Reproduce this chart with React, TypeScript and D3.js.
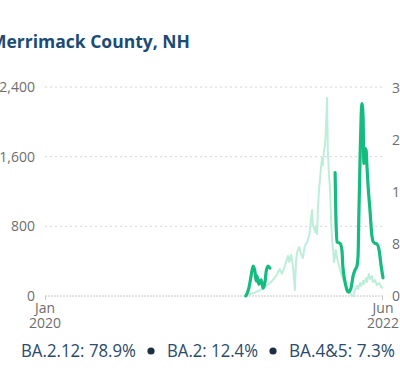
import React from "react";
import * as d3 from "d3";

const title = "Merrimack County, NH";
const leftTicks = [0, 800, 1600, 2400];
const rightTicks = [0, 8, 16, 24, 32];
const xStart = "2020-01-01";
const xEnd = "2022-06-01";
const xTickLabels = [["Jan", "2020"], ["Jun", "2022"]];
const legendItems = ["BA.2.12: 78.9%", "BA.2: 12.4%", "BA.4&5: 7.3%"];

const caseDates = [
  "2021-06-08","2021-06-19","2021-06-29","2021-07-10","2021-07-20","2021-07-31","2021-08-10","2021-08-18",
  "2021-08-26","2021-08-31","2021-09-05","2021-09-10","2021-09-16","2021-09-21","2021-09-26","2021-09-29",
  "2021-10-04","2021-10-09","2021-10-12","2021-10-14","2021-10-17","2021-10-20","2021-10-25","2021-10-30",
  "2021-11-04","2021-11-09","2021-11-15","2021-11-20","2021-11-22","2021-11-25","2021-11-28","2021-11-30",
  "2021-12-06","2021-12-08","2021-12-11","2021-12-13","2021-12-16","2021-12-19","2021-12-21","2021-12-24",
  "2021-12-26","2021-12-29","2021-12-31","2022-01-03","2022-01-06","2022-01-08","2022-01-11","2022-01-14",
  "2022-01-16","2022-01-19","2022-01-22","2022-01-24","2022-01-27","2022-01-29","2022-02-01","2022-02-04",
  "2022-02-09","2022-02-14","2022-02-19","2022-02-24","2022-03-02","2022-03-07","2022-03-12","2022-03-15",
  "2022-03-20","2022-03-25","2022-03-28","2022-04-02","2022-04-05","2022-04-10","2022-04-12","2022-04-18",
  "2022-04-20","2022-04-25","2022-04-28","2022-05-03","2022-05-06","2022-05-11","2022-05-16","2022-05-22",
  "2022-05-27","2022-06-01"
];
const caseValues = [
  0, 23, 34, 57, 80, 115, 149, 184,
  230, 276, 310, 253, 321, 390, 459, 390,
  471, 344, 184, 69, 390, 505, 563, 482,
  436, 574, 620, 689, 735, 895, 987, 815,
  735, 804, 712, 987, 1217, 1355, 1470, 1584,
  1504, 1676, 1699, 1906, 2273, 1676, 1389, 1217,
  930, 643, 528, 390, 459, 528, 436, 390,
  298, 230, 161, 115, 69, 34, 0, 0,
  69, 115, 80, 149, 115, 172, 138, 207,
  161, 253, 195, 230, 161, 184, 126, 149,
  103, 92
];

const variantDates = [
  "2021-06-08","2021-06-16","2021-06-21","2021-06-27","2021-07-02","2021-07-05","2021-07-07","2021-07-12",
  "2021-07-18","2021-07-23","2021-07-28","2021-07-31","2021-08-05","2021-08-10",
  "2021-11-01",
  "2022-01-27","2022-01-29","2022-02-01","2022-02-09","2022-02-14","2022-02-16","2022-02-21","2022-02-26",
  "2022-03-02","2022-03-09","2022-03-15","2022-03-20","2022-03-25","2022-03-28","2022-03-30","2022-04-02",
  "2022-04-05","2022-04-07","2022-04-10","2022-04-12","2022-04-15","2022-04-18","2022-04-20","2022-04-23",
  "2022-04-28","2022-05-03","2022-05-06","2022-05-11","2022-05-16","2022-05-22","2022-05-27","2022-06-01"
];
const variantValues: (number | null)[] = [
  0, 1.2, 2.8, 4.6, 3.7, 2.3, 3.1, 1.8,
  2.5, 1.2, 2.1, 3.7, 4.6, 4.3,
  null,
  19.0, 12.4, 8.3, 8.1, 7.0, 4.7, 2.5, 1.1,
  0.6, 1.1, 3.1, 4.0, 4.6, 6.3, 12.4, 20.8,
  27.7, 29.6, 27.7, 20.4, 22.7, 22.4, 20.1, 17.0,
  13.2, 9.3, 8.4, 8.1, 8.0, 7.0, 4.7, 2.8
];

const W = 400;
const H = 377;
const FONT = "'Open Sans', 'Noto Sans', sans-serif";

export default function App() {
  const parse = d3.timeParse("%Y-%m-%d");
  const x = d3.scaleTime().domain([parse(xStart)!, parse(xEnd)!]).range([45, 383]);
  const yL = d3.scaleLinear().domain([0, 2400]).range([296, 87]);
  const yR = d3.scaleLinear().domain([0, 32]).range([296, 88]);

  const cases = caseDates.map((d, i) => ({ d: parse(d)!, v: caseValues[i] }));
  const variant = variantDates.map((d, i) => ({ d: parse(d)!, v: variantValues[i] }));

  const caseLine = d3.line<{ d: Date; v: number }>().x((p) => x(p.d)).y((p) => yL(p.v));
  const varLine = d3
    .line<{ d: Date; v: number | null }>()
    .defined((p) => p.v !== null)
    .x((p) => x(p.d))
    .y((p) => yR(p.v as number))
    .curve(d3.curveMonotoneX);

  const fmt = d3.format(",");
  const legendX = [21, 167, 289];
  const legendW = [115, 91, 106];
  const bulletX = [151, 273];

  return (
    <svg width={W} height={H} style={{ position: "absolute", left: 0, top: 0, background: "#fff" }} fontFamily={FONT}>
      <text x={-10} y={48} fontSize={17.5} fontWeight={700} fill="#1c4b75">{title}</text>

      {leftTicks.map((t) => (
        <g key={"l" + t}>
          <line x1={45} x2={383} y1={yL(t)} y2={yL(t)} stroke={t === 0 ? "#c8c8c8" : "#d4d4d4"} strokeDasharray={t === 0 ? "2,1" : "2,3"} strokeWidth={1} />
          <text x={35} y={yL(t)} dy="0.35em" textAnchor="end" fontSize={14} fill="#6e6e6e">{fmt(t)}</text>
        </g>
      ))}
      <line x1={45.5} x2={45.5} y1={296} y2={300} stroke="#c8c8c8" />
      <line x1={382.5} x2={382.5} y1={296} y2={300} stroke="#c8c8c8" />

      {rightTicks.map((t) => (
        <text key={"r" + t} x={392} y={yR(t)} dy="0.35em" textAnchor="start" fontSize={14} fill="#6e6e6e">{fmt(t)}</text>
      ))}

      {xTickLabels.map((lab, i) => (
        <text key={"x" + i} x={x(parse(i === 0 ? xStart : xEnd)!)} y={313} textAnchor="middle" fontSize={14} fill="#6e6e6e">
          <tspan x={x(parse(i === 0 ? xStart : xEnd)!)}>{lab[0]}</tspan>
          <tspan x={x(parse(i === 0 ? xStart : xEnd)!)} dy={15}>{lab[1]}</tspan>
        </text>
      ))}

      <path d={caseLine(cases) || ""} fill="none" stroke="#bdeed9" strokeWidth={2} strokeLinejoin="round" />
      <path d={varLine(variant) || ""} fill="none" stroke="#16bb7f" strokeWidth={3.2} strokeLinejoin="round" strokeLinecap="round" />

      {legendItems.map((s, i) => (
        <text key={"lg" + i} x={legendX[i]} y={357} fontSize={17.5} fill="#2b4b6c" textLength={legendW[i]} lengthAdjust="spacingAndGlyphs">{s}</text>
      ))}
      {bulletX.map((bx, i) => (
        <circle key={"b" + i} cx={bx} cy={351} r={3.6} fill="#1a2e44" />
      ))}
    </svg>
  );
}
